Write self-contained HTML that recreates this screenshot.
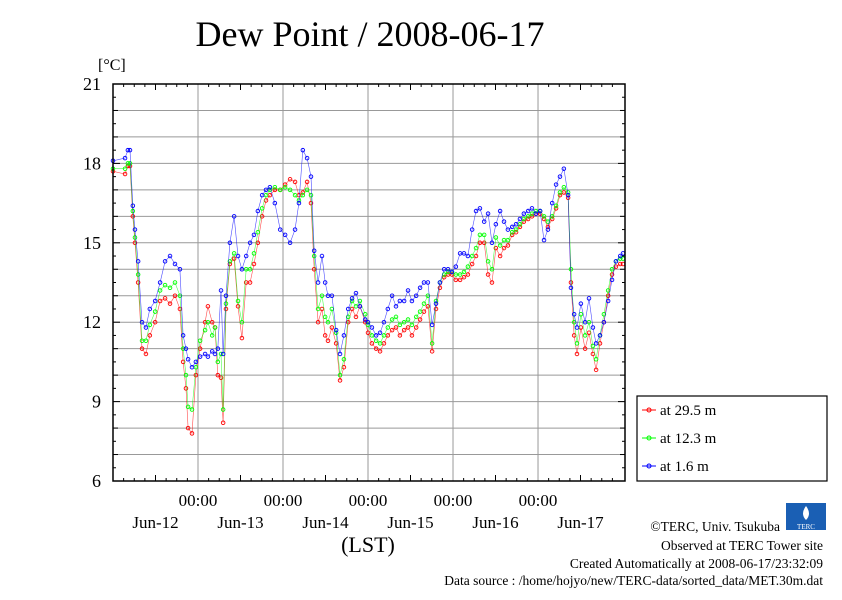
<!DOCTYPE html>
<html><head><meta charset="utf-8"><style>
body{margin:0;background:#fff}
svg text{font-family:"Liberation Serif",serif}
</style></head><body>
<svg id="c" width="842" height="595" xmlns="http://www.w3.org/2000/svg">
<rect width="842" height="595" fill="#fff"/>
<text x="370" y="46" font-size="36" text-anchor="middle">Dew Point / 2008-06-17</text>
<text x="98" y="70" font-size="16">[°C]</text>
<g id="grid"></g>
<g id="series"></g>
<rect x="113" y="84" width="512" height="397" fill="none" stroke="#000" stroke-width="1.5"/>
<g id="axes"></g>
<text x="368" y="552" font-size="22" text-anchor="middle">(LST)</text>
<g>
<rect x="637" y="396" width="190" height="85" fill="#fff" stroke="#000" stroke-width="1.2"/>
<g><line x1="642" y1="410" x2="656" y2="410" stroke="#f00"/><circle cx="649" cy="410" r="2" fill="none" stroke="#f00"/><text x="660" y="415" font-size="15">at 29.5 m</text></g>
<g><line x1="642" y1="438" x2="656" y2="438" stroke="#0f0"/><circle cx="649" cy="438" r="2" fill="none" stroke="#0f0"/><text x="660" y="443" font-size="15">at 12.3 m</text></g>
<g><line x1="642" y1="466" x2="656" y2="466" stroke="#00f"/><circle cx="649" cy="466" r="2" fill="none" stroke="#00f"/><text x="660" y="471" font-size="15">at 1.6 m</text></g>
</g>
<g>
<rect x="786" y="503" width="40" height="27" fill="#1a5fb4"/>
<path d="M806 506 Q800 514 806 520 Q812 514 806 506Z" fill="#fff"/>
<text x="806" y="529" font-size="7" fill="#fff" text-anchor="middle" font-family="Liberation Sans">TERC</text>
</g>
<g font-size="13.5" text-anchor="end">
<text x="780" y="531">©TERC, Univ. Tsukuba</text>
<text x="823" y="550">Observed at TERC Tower site</text>
<text x="823" y="568">Created Automatically at 2008-06-17/23:32:09</text>
<text x="823" y="585">Data source : /home/hojyo/new/TERC-data/sorted_data/MET.30m.dat</text>
</g>
</svg>
<script>
const hours=[0,3.4,4.2,4.8,5.6,6.2,7.1,8.2,9.3,10.4,11.9,13.3,14.7,16.1,17.5,18.9,19.8,20.6,21.2,22.3,23.4,24.6,26.0,26.8,28.0,28.8,29.6,30.5,31.1,31.9,33.0,34.2,35.3,36.4,37.6,38.7,39.8,40.9,42.1,43.2,44.3,45.7,47.2,48.6,50.0,51.4,52.5,53.6,54.8,55.9,56.8,57.9,59.0,59.9,60.7,61.8,63.0,64.1,65.2,66.4,67.5,68.6,69.7,71.2,72.0,73.1,74.3,75.4,76.5,77.6,78.8,79.9,81.0,82.2,83.3,84.4,85.6,86.7,87.8,88.9,90.1,91.2,92.3,93.5,94.6,95.7,96.8,98.0,99.1,100.2,101.4,102.5,103.6,104.8,105.9,107.0,108.1,109.3,110.4,111.5,112.7,113.8,114.9,116.0,117.2,118.3,119.4,120.6,121.7,122.8,124.0,125.1,126.2,127.3,128.5,129.3,130.2,131.0,132.1,133.3,134.4,135.5,136.4,137.5,138.6,139.8,140.9,142.0,143.2,144.0];
const red=[17.7,17.6,17.9,17.9,16.0,15.0,13.5,11.0,10.8,11.5,12.0,12.8,12.9,12.7,13.0,12.5,10.5,9.5,8.0,7.8,10.0,11.0,12.0,12.6,12.0,11.8,10.0,9.9,8.2,12.5,14.2,14.4,12.6,11.4,13.5,13.5,14.2,15.0,16.0,16.6,16.8,17.0,17.0,17.2,17.4,17.3,16.8,16.9,17.3,16.5,14.0,12.0,12.5,11.5,11.3,11.8,11.2,9.8,10.3,12.0,12.5,12.2,12.6,12.0,11.6,11.2,11.0,10.9,11.2,11.5,11.7,11.8,11.5,11.7,11.8,11.5,11.8,12.1,12.4,12.6,10.9,12.5,13.3,13.7,13.8,13.8,13.6,13.6,13.7,13.8,14.2,14.5,15.0,15.0,13.8,13.5,14.8,14.5,14.8,14.9,15.3,15.4,15.6,15.8,15.9,16.0,16.1,16.1,15.9,15.6,15.9,16.3,16.8,16.9,16.7,13.5,11.5,10.8,11.8,11.0,11.6,10.8,10.2,11.2,12.0,13.0,13.8,14.1,14.2,14.2];
const green=[17.8,17.8,18.0,18.0,16.2,15.2,13.8,11.3,11.3,11.9,12.4,13.2,13.4,13.3,13.5,13.0,11.0,10.0,8.8,8.7,10.3,11.3,11.7,12.0,11.5,11.8,10.5,10.8,8.7,12.7,14.3,14.6,12.8,12.0,14.0,14.0,14.6,15.4,16.3,16.8,17.0,17.1,17.0,17.1,17.0,16.8,16.6,16.8,17.0,16.8,14.5,12.5,13.0,12.2,12.0,12.5,11.6,10.0,10.6,12.2,12.8,12.6,12.8,12.3,11.9,11.5,11.3,11.2,11.5,11.8,12.1,12.2,11.9,12.0,12.1,11.9,12.2,12.4,12.7,13.0,11.2,12.8,13.5,13.8,13.9,13.9,13.8,13.8,13.9,14.1,14.5,14.8,15.3,15.3,14.3,14.0,15.2,14.9,15.1,15.1,15.4,15.5,15.7,15.9,16.0,16.1,16.2,16.2,16.0,15.8,16.0,16.4,16.9,17.1,16.9,14.0,12.0,11.2,12.3,11.5,12.0,11.1,10.6,11.5,12.3,13.2,14.0,14.3,14.4,14.4];
const blue=[18.1,18.2,18.5,18.5,16.4,15.5,14.3,12.0,11.8,12.5,12.8,13.5,14.3,14.5,14.2,14.0,11.5,11.0,10.6,10.3,10.5,10.7,10.8,10.7,10.9,10.8,11.0,13.2,10.8,13.0,15.0,16.0,14.5,14.0,14.5,15.0,15.3,16.2,16.8,17.0,17.1,16.5,15.5,15.3,15.0,15.5,16.5,18.5,18.2,17.5,14.7,13.5,14.5,13.5,13.0,13.0,11.7,10.8,11.5,12.5,12.9,13.1,12.6,12.1,12.0,11.8,11.5,11.6,12.0,12.5,13.0,12.6,12.8,12.8,13.2,12.8,13.0,13.3,13.5,13.5,11.9,12.7,13.5,14.0,14.0,13.9,14.1,14.6,14.6,14.5,15.5,16.2,16.3,15.8,16.1,15.0,15.7,16.2,15.8,15.5,15.6,15.7,15.9,16.1,16.2,16.3,16.1,16.2,15.1,15.5,16.5,17.2,17.5,17.8,16.8,13.3,12.3,11.8,12.7,12.0,12.9,11.8,11.2,11.5,12.0,12.8,13.6,14.3,14.5,14.6];
const yTicks=[6,9,12,15,18,21];
const dayLabels=["Jun-12","Jun-13","Jun-14","Jun-15","Jun-16","Jun-17"];
const NS="http://www.w3.org/2000/svg";
const X0=113,X1=625,Y0=481,Y1=84,H0=0,H1=144.56,V0=6,V1=21;
function xs(h){return X0+(h-H0)/(H1-H0)*(X1-X0);}
function ys(v){return Y0-(v-V0)/(V1-V0)*(Y0-Y1);}
function mk(tag,a,p){const e=document.createElementNS(NS,tag);for(const k in a)e.setAttribute(k,a[k]);p.appendChild(e);return e;}
const grid=document.getElementById('grid'),axes=document.getElementById('axes'),ser=document.getElementById('series');
for(let v=V0+1;v<V1;v++){const l=mk('line',{x1:X0,x2:X1,y1:ys(v),y2:ys(v),stroke:'#999','stroke-width':1},grid);

}
for(let v=V0;v<=V1;v+=0.5){const len=(v%3===0)?7:(v%1===0?5:3);
mk('line',{x1:X0,x2:X0+len,y1:ys(v),y2:ys(v),stroke:'#000'},axes);mk('line',{x1:X1,x2:X1-len,y1:ys(v),y2:ys(v),stroke:'#000'},axes);}
yTicks.forEach(v=>{const t=mk('text',{x:101,y:ys(v)+6,'font-size':18,'text-anchor':'end'},axes);t.textContent=v;

});
dayLabels.forEach((d,i)=>{const hx=xs(24*(i+1));
if(hx<X1-20){const l=mk('line',{x1:hx,x2:hx,y1:Y1,y2:Y0,stroke:'#999'},grid);


const t=mk('text',{x:hx,y:506,'font-size':17,'text-anchor':'middle'},axes);t.textContent='00:00';

}
for(let k=3;k<24;k+=3){const tx=xs(24*i+k);mk('line',{x1:tx,x2:tx,y1:Y0,y2:Y0-(k%12===0?6:3),stroke:'#000'},axes);mk('line',{x1:tx,x2:tx,y1:Y1,y2:Y1+(k%12===0?6:3),stroke:'#000'},axes);}
const t2=mk('text',{x:xs(24*i+12),y:528,'font-size':17,'text-anchor':'middle'},axes);t2.textContent=d;

});
[[red,'#f00','series-29.5m'],[green,'#0f0','series-12.3m'],[blue,'#00f','series-1.6m']].forEach(([arr,c,n])=>{
const g=mk('g',{},ser);


const pts=arr.map((v,i)=>xs(hours[i]).toFixed(1)+','+ys(v).toFixed(1)).join(' ');
const pl=mk('polyline',{points:pts,fill:'none',stroke:c,'stroke-width':0.6,'stroke-opacity':0.7},g);


arr.forEach((v,i)=>{const p=mk('circle',{cx:xs(hours[i]),cy:ys(v),r:1.8,fill:'none',stroke:c,'stroke-width':0.9},g);

});});
</script>
</body></html>
